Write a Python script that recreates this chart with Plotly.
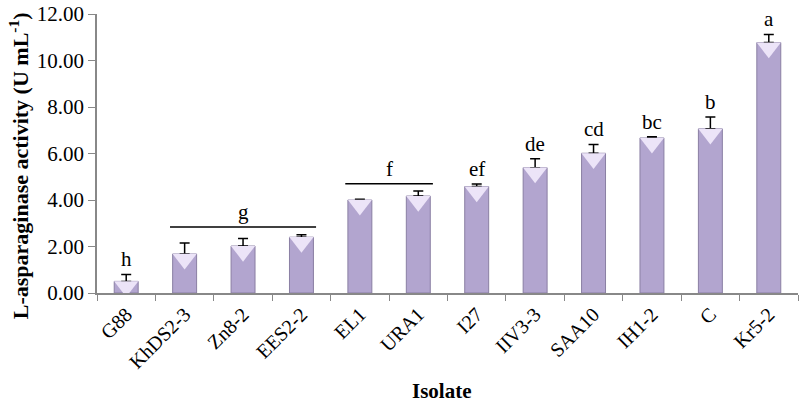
import plotly.graph_objects as go

isolates = ["G88", "KhDS2-3", "Zn8-2", "EES2-2", "EL1", "URA1", "I27", "IIV3-3",
            "SAA10", "IH1-2", "C", "Kr5-2"]
activity = [0.50, 1.68, 2.02, 2.40, 4.00, 4.17, 4.58, 5.39, 6.01, 6.67, 7.06, 10.77]
error = [0.30, 0.47, 0.32, 0.11, 0.03, 0.22, 0.11, 0.38, 0.38, 0.05, 0.51, 0.35]
letters = ["h", "", "", "", "", "", "ef", "de", "cd", "bc", "b", "a"]
group_labels = [("g", "KhDS2-3", "EES2-2", 2.84), ("f", "EL1", "URA1", 4.70)]
y_ticks = [0, 2, 4, 6, 8, 10, 12]

FONT = "Liberation Serif, Times New Roman, serif"

fig = go.Figure()
fig.add_trace(go.Bar(
    x=isolates, y=activity, width=0.41,
    marker=dict(color="#b2a5cf", line=dict(color="#8a7fa3", width=1)),
    error_y=dict(type="data", symmetric=False, array=error,
                 arrayminus=[0] * len(error), color="black", thickness=1.5, width=5),
    showlegend=False,
))
# top highlight (decorative bevel)
fig.add_trace(go.Scatter(
    x=isolates, y=[v - 0.22 for v in activity], mode="markers",
    marker=dict(symbol="triangle-down", size=21, color="#ece4f8",
                line=dict(width=0)),
    hoverinfo="skip", showlegend=False,
))

for i, lab in enumerate(letters):
    if lab:
        fig.add_annotation(x=isolates[i], y=activity[i] + error[i], text=lab,
                           showarrow=False, yanchor="bottom", yshift=1,
                           font=dict(family=FONT, size=21, color="black"))

for lab, a, b, yv in group_labels:
    ia, ib = isolates.index(a), isolates.index(b)
    fig.add_shape(type="line", xref="x", yref="y", x0=ia - 0.25, x1=ib + 0.25,
                  y0=yv, y1=yv, line=dict(color="black", width=1.5))
    fig.add_annotation(x=(ia + ib) / 2, y=yv, text=lab, showarrow=False,
                       yanchor="bottom", yshift=1,
                       font=dict(family=FONT, size=21, color="black"))

# axis titles
fig.add_annotation(xref="paper", yref="paper", x=-0.112, y=0.456,
                   text="<b>L-asparaginase activity (U mL<sup>-1</sup>)</b>",
                   textangle=-90, showarrow=False, xanchor="center", yanchor="middle",
                   font=dict(family=FONT, size=22, color="black"))
fig.add_annotation(xref="paper", yref="paper", x=0.492, y=-0.353,
                   text="<b>Isolate</b>", showarrow=False,
                   xanchor="center", yanchor="middle",
                   font=dict(family=FONT, size=21, color="black"))

fig.update_layout(
    width=800, height=412,
    margin=dict(l=97, r=2, t=10, b=119),
    plot_bgcolor="white", paper_bgcolor="white",
    font=dict(family=FONT, color="black"),
)
fig.update_xaxes(
    showline=True, linecolor="#888", linewidth=1.5,
    ticks="outside", tickson="boundaries", ticklen=6, tickcolor="#888",
    tickangle=-45, tickfont=dict(family=FONT, size=20),
    range=[-0.5, 11.5],
)
fig.update_yaxes(
    range=[0, 12], tickvals=y_ticks, tickformat=".2f", ticksuffix="\u00a0",
    showline=True, linecolor="#888", linewidth=1.5,
    ticks="outside", ticklen=7, tickcolor="#888", showgrid=False, zeroline=False,
    tickfont=dict(family=FONT, size=21), ticklabeloverflow="allow",
)

fig.write_html("out.html")
